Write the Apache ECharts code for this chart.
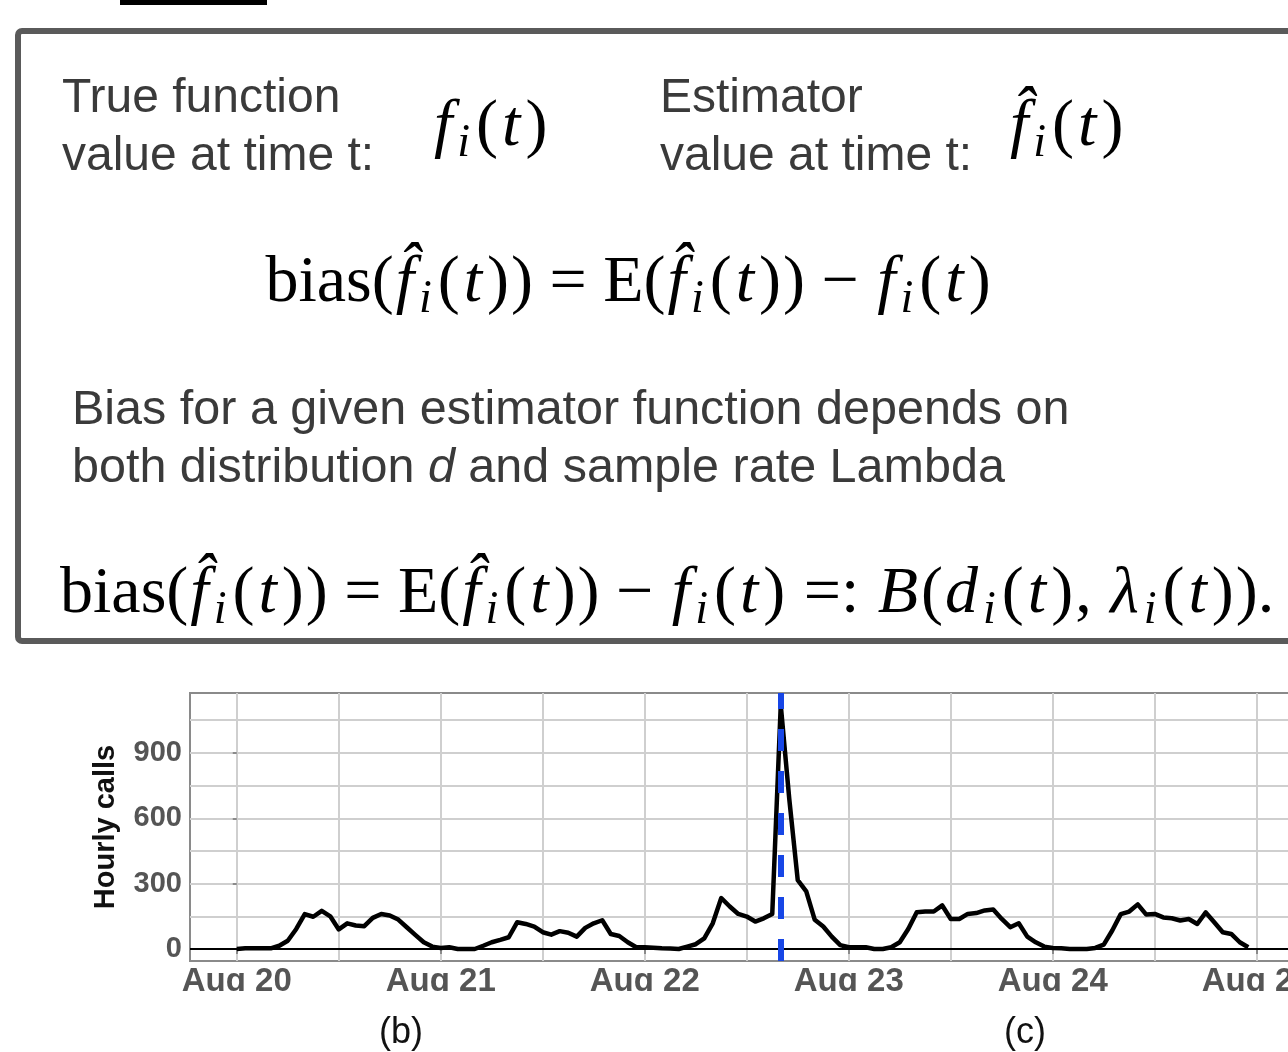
<!DOCTYPE html>
<html>
<head>
<meta charset="utf-8">
<script src="https://cdn.jsdelivr.net/npm/echarts@6/dist/echarts.min.js"></script>
<style>
html, body { margin: 0; padding: 0; background: #fff; }
#chart { width: 1288px; height: 1052px; }
</style>
</head>
<body>
<div id="chart"></div>
<script>
// hourly calls, one array per day (hour 0..23)
let aug20 = [0, 3, 3, 3, 3, 15, 38, 92, 160, 148, 175, 150, 90, 118, 108, 105, 143, 161, 154, 135, 100, 65, 31, 11]
let aug21 = [5, 8, 0, 0, 0, 15, 31, 42, 54, 123, 115, 103, 77, 66, 82, 75, 57, 97, 118, 132, 69, 60, 31, 8]
let aug22 = [8, 6, 3, 2, 0, 11, 22, 49, 118, 234, 195, 161, 149, 126, 141, 161, 1120, 690, 316, 265, 134, 103, 57, 18]
let aug23 = [8, 8, 8, 0, 0, 8, 31, 92, 169, 172, 172, 200, 138, 138, 161, 165, 177, 181, 138, 100, 118, 57, 31, 11]
let aug24 = [5, 3, 0, 0, 0, 5, 20, 85, 160, 172, 205, 158, 161, 145, 141, 131, 138, 115, 168, 123, 77, 69, 31, 8]

let dayLabels = ['Aug 20', 'Aug 21', 'Aug 22', 'Aug 23', 'Aug 24', 'Aug 25']
let yLabels = [0, 300, 600, 900]
let yMinor = [0, 150, 300, 450, 600, 750, 900, 1050]
let eventHour = 64 // Aug 22, 16:00

let chart = echarts.init(document.getElementById('chart'))

let days = [aug20, aug21, aug22, aug23, aug24]
let data = []
for (let d = 0; d < days.length; d++) {
	for (let h = 0; h < days[d].length; h++) {
		data.push([d * 24 + h, days[d][h]])
	}
}
let dayTicks = dayLabels.map((s, i) => i * 24)
let halfTicks = []
for (let i = 0; i <= 10; i++) halfTicks.push(i * 12)

let sans = '"Liberation Sans", Arial, Helvetica, sans-serif'
let serif = '"Liberation Serif", "Times New Roman", serif'
let mathRich = {
	r: { fontFamily: serif, fontSize: 66, lineHeight: 78, fill: '#000' },
	rp: { fontFamily: serif, fontSize: 66, lineHeight: 78, fill: '#000', padding: [0, 2, 0, 2] },
	it: { fontFamily: serif, fontSize: 66, fontStyle: 'italic', lineHeight: 78, fill: '#000', padding: [0, 3, 0, 2] },
	s: { fontFamily: serif, fontSize: 46, fontStyle: 'italic', lineHeight: 46, verticalAlign: 'bottom', fill: '#000', padding: [0, 4, 0, 2] }
}
let fi = '{it|f}{s|i}{rp|(}{it|t}{rp|)}'
let fhat = '{it|f\u0302}{s|i}{rp|(}{it|t}{rp|)}'
let biasEq = '{r|bias(}' + fhat + '{r|) = E(}' + fhat + '{r|) \u2212 }' + fi

function txt(x, y, s, size, extra) {
	return {
		type: 'text', x: x, y: y, z: 50,
		style: Object.assign({
			text: s, fill: '#3a3a3a', fontFamily: sans, fontSize: size,
			textVerticalAlign: 'middle'
		}, extra || {})
	}
}

let option = {
	animation: false,
	backgroundColor: '#fff',
	grid: {
		left: 190, top: 693, width: 1105, height: 268,
		outerBoundsMode: 'none', containLabel: false,
		show: true, borderColor: '#8a8a8a', borderWidth: 2, backgroundColor: 'transparent'
	},
	xAxis: [{
		type: 'value', min: -5.5, max: 124.5,
		axisLine: { show: false },
		axisTick: { show: false, customValues: halfTicks },
		axisLabel: { show: false },
		splitLine: { show: true, lineStyle: { color: '#cfcfcf', width: 2 } }
	}, {
		type: 'value', min: -5.5, max: 124.5, position: 'bottom',
		axisLine: { show: false },
		axisTick: { show: true, customValues: dayTicks, length: 5, lineStyle: { color: '#8a8a8a', width: 2 } },
		axisLabel: {
			customValues: dayTicks, margin: 4, hideOverlap: false,
			formatter: v => dayLabels[Math.round(v / 24)],
			fontFamily: sans, fontSize: 33, fontWeight: 'bold', color: '#555'
		},
		splitLine: { show: false }
	}],
	yAxis: [{
		type: 'value', min: -55, max: 1175,
		axisLine: { show: false },
		axisTick: { show: false, customValues: yMinor },
		axisLabel: { show: false },
		splitLine: { show: true, lineStyle: { color: '#cfcfcf', width: 2 } }
	}, {
		type: 'value', min: -55, max: 1175, position: 'left',
		axisLine: { show: false },
		axisTick: { show: true, customValues: yLabels, length: 4, lineStyle: { color: '#8a8a8a', width: 2 } },
		axisLabel: {
			customValues: yLabels, margin: 8,
			fontFamily: sans, fontSize: 29, fontWeight: 'bold', color: '#555'
		},
		splitLine: { show: false },
		name: 'Hourly calls', nameLocation: 'middle', nameGap: 70,
		nameTextStyle: { fontFamily: sans, fontSize: 29, fontWeight: 'bold', color: '#111' }
	}],
	series: [{
		name: 'Hourly calls',
		type: 'line',
		xAxisIndex: 0,
		yAxisIndex: 0,
		data: data,
		showSymbol: false,
		lineStyle: { color: '#000', width: 4.5, join: 'round' },
		markLine: {
			silent: true,
			symbol: ['none', 'none'],
			label: { show: false },
			data: [
				{ yAxis: 0, lineStyle: { color: '#000', width: 2, type: 'solid' } },
				{ xAxis: eventHour, lineStyle: { color: '#1746e6', width: 6, type: [22, 20] } }
			]
		}
	}],
	graphic: [
		{ type: 'rect', shape: { x: 120, y: 0, width: 147, height: 5 }, style: { fill: '#000' } },
		{ type: 'rect', shape: { x: 18, y: 31, width: 1400, height: 610, r: 4 }, style: { fill: 'none', stroke: '#5a5a5a', lineWidth: 6 } },
		txt(62, 99, 'True function', 48),
		txt(62, 157, 'value at time t:', 48),
		txt(660, 99, 'Estimator', 48),
		txt(660, 157, 'value at time t:', 48),
		{ type: 'text', x: 432, y: 128, z: 50, style: { text: fi, rich: mathRich, textVerticalAlign: 'middle' } },
		{ type: 'text', x: 1008, y: 128, z: 50, style: { text: fhat, rich: mathRich, textVerticalAlign: 'middle' } },
		{ type: 'text', x: 629, y: 284, z: 50, style: { text: biasEq, rich: mathRich, textAlign: 'center', textVerticalAlign: 'middle' } },
		txt(72, 411, 'Bias for a given estimator function depends on', 48.5),
		{ type: 'text', x: 72, y: 469, z: 50, style: {
			text: '{a|both distribution }{b|d}{a| and sample rate Lambda}',
			textVerticalAlign: 'middle',
			rich: {
				a: { fontFamily: sans, fontSize: 48.5, fill: '#3a3a3a' },
				b: { fontFamily: sans, fontSize: 48.5, fontStyle: 'italic', fill: '#3a3a3a' }
			}
		} },
		{ type: 'text', x: 60, y: 595, z: 50, style: {
			text: biasEq + '{r| =: }{it|B}{r|(}{it|d}{s|i}{rp|(}{it|t}{rp|)}{r|, }{it|\u03bb}{s|i}{rp|(}{it|t}{rp|)}{r|).}',
			rich: mathRich, textVerticalAlign: 'middle'
		} },
		{ type: 'rect', z: 40, shape: { x: 0, y: 991, width: 1288, height: 18 }, style: { fill: '#fff' } },
		txt(401, 1033, '(b)', 36, { fill: '#111', textAlign: 'center' }),
		txt(1025, 1033, '(c)', 36, { fill: '#111', textAlign: 'center' })
	]
}

chart.setOption(option)
</script>
</body>
</html>
